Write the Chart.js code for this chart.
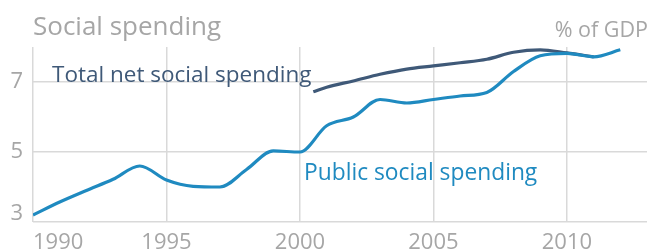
<!DOCTYPE html>
<html>
<head>
<meta charset="utf-8">
<script src="https://cdn.jsdelivr.net/npm/chart.js@4"></script>
<style>
  body { margin: 0; background: #fff; }
  #wrap { position: relative; width: 647px; height: 251px; font-family: "Open Sans", sans-serif; overflow: hidden; }
  #wrap canvas { position: absolute; left: 0; top: 0; }
  .lbl { position: absolute; white-space: nowrap; line-height: 1; }
  #title { left: 33px; top: 12px; font-size: 26px; color: #a6a6a6; }
  #unit { right: -1px; top: 18px; font-size: 21.5px; color: #a6a6a6; }
  #totLbl { left: 52px; top: 63px; font-size: 22.5px; color: #3f5978; }
  #pubLbl { left: 304px; top: 161px; font-size: 22.8px; color: #1f8ac0; }
</style>
</head>
<body>
<div id="wrap">
  <canvas id="chart" width="647" height="251"></canvas>
  <div class="lbl" id="title">Social spending</div>
  <div class="lbl" id="unit">% of GDP</div>
  <div class="lbl" id="totLbl">Total net social spending</div>
  <div class="lbl" id="pubLbl">Public social spending</div>
</div>
<script>
// public social spending, % of GDP
var pubYears = [1990, 1991, 1992, 1993, 1994, 1995, 1996, 1997, 1998, 1999, 2000, 2001,
                2002, 2003, 2004, 2005, 2006, 2007, 2008, 2009, 2010, 2011, 2012];
var pubValues = [3.2, 3.57, 3.9, 4.22, 4.6, 4.2, 4.02, 4.0, 4.5, 5.03, 5.0, 5.75,
                 6.0, 6.5, 6.4, 6.5, 6.6, 6.7, 7.3, 7.75, 7.82, 7.72, 7.92];

// total net social spending, % of GDP
var totYears = [2000.5, 2001, 2002, 2003, 2004, 2005, 2006, 2007, 2008, 2009, 2010, 2011];
var totValues = [6.72, 6.85, 7.03, 7.22, 7.37, 7.46, 7.55, 7.65, 7.85, 7.92, 7.83, 7.72];

var xTicks = [1990, 1995, 2000, 2005, 2010];
var yLabels = [3, 5, 7];

var blue = '#1f8ac0';
var slate = '#3f5978';
var gray = '#a6a6a6';

function toPoints(xs, ys) {
    var pts = [];
    for (var i = 0; i < xs.length; i++) pts.push({x: xs[i], y: ys[i]});
    return pts;
}

// keep the plot box fixed: no extra room for overhanging labels
function noPad(s) {
    s.paddingLeft = 0; s.paddingRight = 0;
    s.paddingTop = 0; s.paddingBottom = 0;
}

var ctx = document.getElementById('chart').getContext('2d');
new Chart(ctx, {
    type: 'line',
    data: {
        datasets: [{
            data: toPoints(pubYears, pubValues),
            borderColor: blue,
            borderWidth: 3.2,
            pointRadius: 0,
            cubicInterpolationMode: 'monotone',
            order: 1
        }, {
            data: toPoints(totYears, totValues),
            borderColor: slate,
            borderWidth: 3.2,
            pointRadius: 0,
            cubicInterpolationMode: 'monotone',
            order: 2
        }]
    },
    options: {
        responsive: false,
        animation: false,
        layout: { padding: { top: 47, left: 0, right: 0, bottom: 0 } },
        plugins: { legend: { display: false }, tooltip: { enabled: false } },
        scales: {
            x: {
                type: 'linear',
                min: 1990,
                max: 2013,
                afterBuildTicks: function (s) {
                    s.ticks = xTicks.concat([2013]).map(function (v) { return {value: v}; });
                },
                afterFit: function (s) { s.height = 29; noPad(s); },
                grid: {
                    color: function (c) { return c.tick && c.tick.value === 2013 ? 'rgba(0,0,0,0)' : '#d9d9d9'; },
                    lineWidth: 1.5,
                    drawTicks: false
                },
                border: { display: false },
                ticks: {
                    align: 'inner',
                    padding: 8,
                    maxRotation: 0,
                    autoSkip: false,
                    color: gray,
                    font: { family: 'Open Sans', size: 22 },
                    callback: function (v) { return xTicks.indexOf(v) >= 0 ? String(v) : ''; }
                }
            },
            y: {
                min: 3,
                max: 8,
                afterBuildTicks: function (s) {
                    s.ticks = [3, 4, 5, 6, 7, 8].map(function (v) { return {value: v}; });
                },
                afterFit: function (s) { s.width = 33; noPad(s); },
                grid: { color: '#d9d9d9', lineWidth: 1.5, drawTicks: false },
                border: { display: false },
                ticks: {
                    padding: 10,
                    color: gray,
                    font: { family: 'Open Sans', size: 22, lineHeight: 0.75 },
                    callback: function (v) {
                        if (yLabels.indexOf(v) < 0) return '';
                        return v === 3 ? ['3', ''] : String(v);
                    }
                }
            }
        }
    }
});
</script>
</body>
</html>
